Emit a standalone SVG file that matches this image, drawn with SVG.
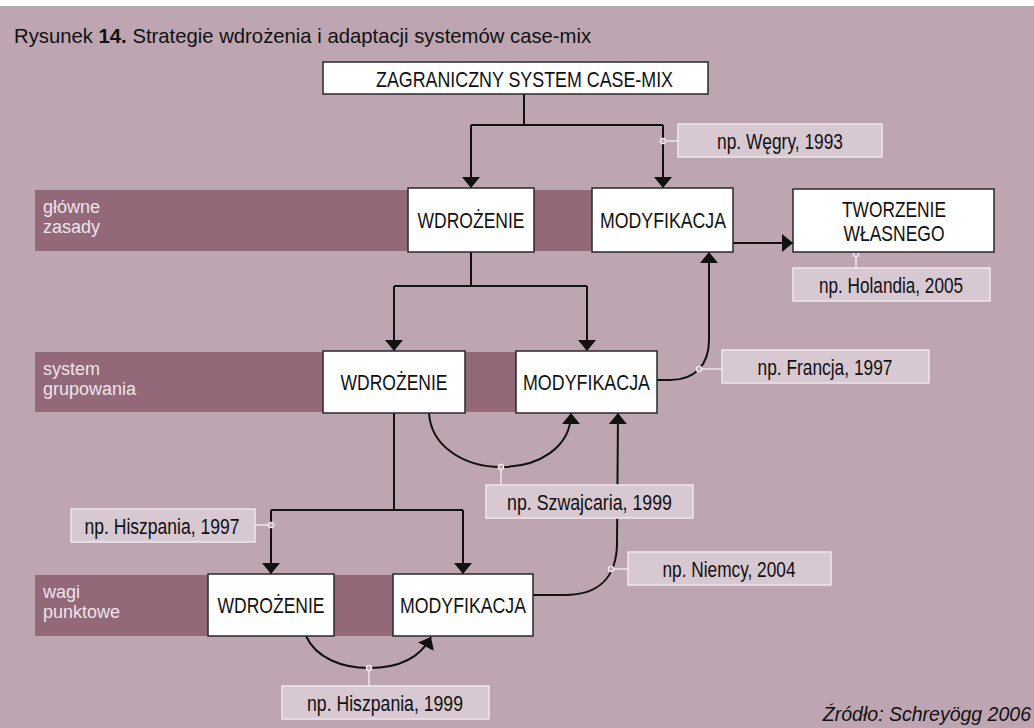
<svg xmlns="http://www.w3.org/2000/svg" width="1034" height="728" viewBox="0 0 1034 728">
  <defs>
    <marker id="arrow" viewBox="0 0 11 18" refX="11" refY="9" markerWidth="11" markerHeight="18" orient="auto" markerUnits="userSpaceOnUse">
      <path d="M0,0 L11,9 L0,18 z" fill="#111"/>
    </marker>
    <style>
      .bg { fill: #bda6b2; }
      .band { fill: #936879; }
      .node rect { fill: #ffffff; stroke: #2a2a2a; stroke-width: 1.5; }
      .node text { font-family: "Liberation Sans", Arial, sans-serif; font-size: 22px; fill: #111; text-anchor: middle; }
      .note rect { fill: #d8c8d1; stroke: #efe6eb; stroke-width: 1.5; }
      .note text { font-family: "Liberation Sans", Arial, sans-serif; font-size: 22px; fill: #111; text-anchor: middle; }
      .row text { font-family: "Liberation Sans", Arial, sans-serif; font-size: 18px; fill: #ede4e9; }
      .edge { fill: none; stroke: #111; stroke-width: 2; }
      .tie { fill: none; stroke: #efe6eb; stroke-width: 1.5; }
      .dot { fill: #bda6b2; stroke: #f3edf0; stroke-width: 1.3; }
    </style>
  </defs>

  <!-- page background -->
  <rect x="0" y="0" width="1034" height="728" fill="#ffffff"/>
  <rect class="bg" x="0" y="6" width="1034" height="722"/>

  <!-- caption -->
  <text x="14" y="43" font-family="Liberation Sans, Arial, sans-serif" font-size="20.3" fill="#111">Rysunek <tspan font-weight="bold">14.</tspan> Strategie wdrożenia i adaptacji systemów case-mix</text>

  <!-- level bands -->
  <g id="row-glowne" class="row">
    <rect class="band" x="35" y="190" width="557" height="61"/>
    <text x="43" y="213">główne</text>
    <text x="43" y="233">zasady</text>
  </g>
  <g id="row-system" class="row">
    <rect class="band" x="35" y="352" width="481" height="60"/>
    <text x="43" y="375">system</text>
    <text x="43" y="395">grupowania</text>
  </g>
  <g id="row-wagi" class="row">
    <rect class="band" x="35" y="575" width="358" height="61"/>
    <text x="43" y="598">wagi</text>
    <text x="43" y="618">punktowe</text>
  </g>

  <!-- connectors -->
  <g id="connectors">
    <path class="edge" d="M524,94 V125 M471,125 H663"/>
    <path class="edge" d="M471,125 V188" marker-end="url(#arrow)"/>
    <path class="edge" d="M663,125 V188" marker-end="url(#arrow)"/>

    <path class="edge" d="M733,243 H793" marker-end="url(#arrow)"/>

    <path class="edge" d="M471,252 V286 M394,286 H587"/>
    <path class="edge" d="M394,286 V351" marker-end="url(#arrow)"/>
    <path class="edge" d="M587,286 V351" marker-end="url(#arrow)"/>

    <path class="edge" d="M657,380 L670,380 C695,380 709,365 709,340 L709,252" marker-end="url(#arrow)"/>
    <path class="edge" d="M429,413 C431,447 465,467 501,467 C538,467 571,448 571,413" marker-end="url(#arrow)"/>

    <path class="edge" d="M394,413 V510 M271,510 H463"/>
    <path class="edge" d="M271,510 V574" marker-end="url(#arrow)"/>
    <path class="edge" d="M463,510 V574" marker-end="url(#arrow)"/>

    <path class="edge" d="M533,595 L565,595 C598,595 616,578 617,545 L618,413" marker-end="url(#arrow)"/>
    <path class="edge" d="M306,636 C316,658 342,668 369,668 C398,668 420,658 431,637" marker-end="url(#arrow)"/>

    <!-- example tags -->
    <path class="tie" d="M663,141 H678"/>
    <circle class="dot" cx="663" cy="141" r="2.6"/>
    <path class="tie" d="M856,254 V268"/>
    <circle class="dot" cx="856" cy="254" r="2.6"/>
    <path class="tie" d="M699,369 H722"/>
    <circle class="dot" cx="699" cy="369" r="2.6"/>
    <path class="tie" d="M501,467 V485"/>
    <circle class="dot" cx="501" cy="467" r="2.6"/>
    <path class="tie" d="M255,525 H271"/>
    <circle class="dot" cx="271" cy="525" r="2.6"/>
    <path class="tie" d="M611,569 H628"/>
    <circle class="dot" cx="611" cy="569" r="2.6"/>
    <path class="tie" d="M369,668 V686"/>
    <circle class="dot" cx="369" cy="668" r="2.6"/>
  </g>

  <!-- strategy boxes -->
  <g id="zagraniczny" class="node">
    <rect x="323" y="62" width="385" height="32"/>
    <text x="524.5" y="87" textLength="297" lengthAdjust="spacingAndGlyphs">ZAGRANICZNY SYSTEM CASE-MIX</text>
  </g>
  <g id="wdrozenie-1" class="node">
    <rect x="408" y="188" width="126" height="64"/>
    <text x="471" y="228" textLength="107" lengthAdjust="spacingAndGlyphs">WDROŻENIE</text>
  </g>
  <g id="modyfikacja-1" class="node">
    <rect x="592" y="188" width="141" height="64"/>
    <text x="663" y="228" textLength="126" lengthAdjust="spacingAndGlyphs">MODYFIKACJA</text>
  </g>
  <g id="tworzenie" class="node">
    <rect x="793" y="189" width="201" height="63"/>
    <text x="894" y="217" font-size="21" textLength="104" lengthAdjust="spacingAndGlyphs">TWORZENIE</text>
    <text x="894" y="241" font-size="21" textLength="101" lengthAdjust="spacingAndGlyphs">WŁASNEGO</text>
  </g>
  <g id="wdrozenie-2" class="node">
    <rect x="323" y="351" width="142" height="62"/>
    <text x="394" y="390" textLength="107" lengthAdjust="spacingAndGlyphs">WDROŻENIE</text>
  </g>
  <g id="modyfikacja-2" class="node">
    <rect x="516" y="351" width="141" height="62"/>
    <text x="586.5" y="390" textLength="127" lengthAdjust="spacingAndGlyphs">MODYFIKACJA</text>
  </g>
  <g id="wdrozenie-3" class="node">
    <rect x="208" y="574" width="126" height="62"/>
    <text x="271" y="613" textLength="107" lengthAdjust="spacingAndGlyphs">WDROŻENIE</text>
  </g>
  <g id="modyfikacja-3" class="node">
    <rect x="393" y="574" width="140" height="62"/>
    <text x="463" y="613" textLength="126" lengthAdjust="spacingAndGlyphs">MODYFIKACJA</text>
  </g>

  <!-- country examples -->
  <g id="note-wegry" class="note">
    <rect x="678" y="124" width="204" height="33"/>
    <text x="780" y="148.5" textLength="126" lengthAdjust="spacingAndGlyphs">np. Węgry, 1993</text>
  </g>
  <g id="note-holandia" class="note">
    <rect x="793" y="268" width="197" height="33"/>
    <text x="891" y="292.5" textLength="144" lengthAdjust="spacingAndGlyphs">np. Holandia, 2005</text>
  </g>
  <g id="note-francja" class="note">
    <rect x="722" y="350" width="207" height="33"/>
    <text x="825" y="374.5" textLength="135" lengthAdjust="spacingAndGlyphs">np. Francja, 1997</text>
  </g>
  <g id="note-szwajcaria" class="note">
    <rect x="486" y="485" width="207" height="33"/>
    <text x="589.5" y="509.5" textLength="165" lengthAdjust="spacingAndGlyphs">np. Szwajcaria, 1999</text>
  </g>
  <g id="note-hiszpania-1997" class="note">
    <rect x="71" y="509" width="184" height="33"/>
    <text x="162" y="533.5" textLength="155" lengthAdjust="spacingAndGlyphs">np. Hiszpania, 1997</text>
  </g>
  <g id="note-niemcy" class="note">
    <rect x="628" y="552" width="203" height="33"/>
    <text x="729" y="576.5" textLength="133" lengthAdjust="spacingAndGlyphs">np. Niemcy, 2004</text>
  </g>
  <g id="note-hiszpania-1999" class="note">
    <rect x="282" y="686" width="207" height="33"/>
    <text x="385" y="710.5" textLength="156" lengthAdjust="spacingAndGlyphs">np. Hiszpania, 1999</text>
  </g>

  <!-- source line -->
  <text x="1031" y="721" text-anchor="end" font-family="Liberation Sans, Arial, sans-serif" font-size="19.5" font-style="italic" fill="#111">Źródło: Schreyögg 2006</text>
</svg>
